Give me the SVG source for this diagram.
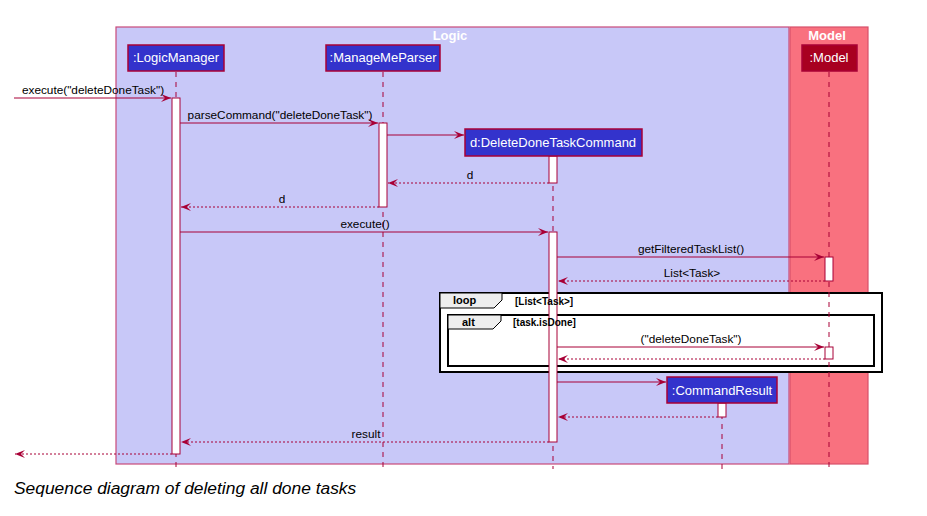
<svg xmlns="http://www.w3.org/2000/svg" width="927" height="516" viewBox="0 0 927 516">
<style>
text{font-family:"Liberation Sans",Arial,sans-serif}
.msg{font-size:11.8px;fill:#000;text-anchor:middle}
.ph{fill:#3333CC;stroke:#A80036;stroke-width:1.5}
.pt{font-size:13px;fill:#fff;text-anchor:middle}
.life{stroke:#A80036;stroke-width:1;stroke-dasharray:5,5;fill:none}
.act{fill:#fff;stroke:#A80036;stroke-width:1}
.line{stroke:#A80036;stroke-width:1;fill:none}
.ret{stroke:#A80036;stroke-width:1;stroke-dasharray:2,2;fill:none}
.frame{fill:#fff;stroke:#000;stroke-width:2}
.tab{fill:#EEEEEE;stroke:#000;stroke-width:1}
.tl{font-size:11px;font-weight:bold;fill:#000}
.guard{font-size:10px;font-weight:bold;fill:#000}
.bt{font-size:13px;font-weight:bold;fill:#fff;text-anchor:middle}
</style>
<defs>
<marker id="arr" markerWidth="12" markerHeight="10" refX="10" refY="4" orient="auto" markerUnits="userSpaceOnUse">
<polygon points="0,0 10,4 0,8 4,4" fill="#A80036"/>
</marker>
</defs>
<rect width="927" height="516" fill="#fff"/>

<g id="box-logic">
<rect x="116" y="27" width="673" height="437" fill="#C8C8F8" stroke="#C84A7A" stroke-width="1.2"/>
<text class="bt" x="450" y="40">Logic</text>
</g>
<g id="box-model">
<rect x="790" y="27" width="78" height="437" fill="#F9717F" stroke="#D8506A" stroke-width="1.2"/>
<text class="bt" x="827" y="40">Model</text>
</g>

<g id="loop">
<rect class="frame" x="440" y="293" width="442" height="79"/>
<polygon class="tab" points="440,293 502,293 502,300 494,308 440,308"/>
<text class="tl" x="453" y="304">loop</text>
</g>
<g id="alt">
<rect class="frame" x="448" y="315" width="426" height="51"/>
<polygon class="tab" points="448,315 501,315 501,321 493,329 448,329"/>
<text class="tl" x="462" y="326">alt</text>
</g>

<g id="lifelines">
<line class="life" x1="176" y1="72" x2="176" y2="469"/>
<line class="life" x1="383" y1="72" x2="383" y2="469"/>
<line class="life" x1="553" y1="156" x2="553" y2="469"/>
<line class="life" x1="722" y1="404" x2="722" y2="469"/>
<line class="life" x1="829" y1="72" x2="829" y2="469"/>
</g>

<g id="activations">
<rect class="act" x="172" y="98" width="8" height="356"/>
<rect class="act" x="379" y="123" width="8" height="84"/>
<rect class="act" x="549" y="156" width="8" height="27"/>
<rect class="act" x="549" y="232" width="8" height="210"/>
<rect class="act" x="825" y="257" width="8" height="24"/>
<rect class="act" x="825" y="347" width="8" height="12"/>
<rect class="act" x="718" y="403" width="8" height="14"/>
</g>

<g id="guards">
<text class="guard" x="515" y="305">[List&lt;Task&gt;]</text>
<text class="guard" x="513" y="326">[task.isDone]</text>
</g>

<g id="connectors">
<line class="line" x1="14" y1="98" x2="171" y2="98" marker-end="url(#arr)"/>
<text class="msg" x="93" y="94">execute("deleteDoneTask")</text>
<line class="line" x1="180" y1="123" x2="378" y2="123" marker-end="url(#arr)"/>
<text class="msg" x="280" y="119">parseCommand("deleteDoneTask")</text>
<line class="line" x1="387" y1="135" x2="464" y2="135" marker-end="url(#arr)"/>
<line class="ret" x1="549" y1="183" x2="388" y2="183" marker-end="url(#arr)"/>
<text class="msg" x="470" y="179">d</text>
<line class="ret" x1="379" y1="207" x2="181" y2="207" marker-end="url(#arr)"/>
<text class="msg" x="282" y="203">d</text>
<line class="line" x1="180" y1="232" x2="548" y2="232" marker-end="url(#arr)"/>
<text class="msg" x="365" y="228">execute()</text>
<line class="line" x1="557" y1="257" x2="824" y2="257" marker-end="url(#arr)"/>
<text class="msg" x="691" y="253">getFilteredTaskList()</text>
<line class="ret" x1="825" y1="281" x2="558" y2="281" marker-end="url(#arr)"/>
<text class="msg" x="692" y="277">List&lt;Task&gt;</text>
<line class="line" x1="557" y1="347" x2="824" y2="347" marker-end="url(#arr)"/>
<text class="msg" x="691" y="343">("deleteDoneTask")</text>
<line class="ret" x1="825" y1="359" x2="558" y2="359" marker-end="url(#arr)"/>
<line class="line" x1="557" y1="382" x2="666" y2="382" marker-end="url(#arr)"/>
<line class="ret" x1="718" y1="417" x2="558" y2="417" marker-end="url(#arr)"/>
<line class="ret" x1="549" y1="442" x2="181" y2="442" marker-end="url(#arr)"/>
<text class="msg" x="366" y="438">result</text>
<line class="ret" x1="172" y1="454" x2="15" y2="454" marker-end="url(#arr)"/>
</g>

<g id="LogicManager">
<rect class="ph" x="128" y="45" width="96" height="26"/>
<text class="pt" x="176" y="62">:LogicManager</text>
</g>
<g id="ManageMeParser">
<rect class="ph" x="326" y="45" width="114" height="26"/>
<text class="pt" x="383" y="62">:ManageMeParser</text>
</g>
<g id="Model">
<rect x="802" y="45" width="55" height="26" fill="#A80020" stroke="#A80036" stroke-width="1.5"/>
<text class="pt" x="829" y="62">:Model</text>
</g>
<g id="DeleteDoneTaskCommand">
<rect class="ph" x="465" y="129" width="177" height="27"/>
<text class="pt" x="553" y="147">d:DeleteDoneTaskCommand</text>
</g>
<g id="CommandResult">
<rect class="ph" x="667" y="377" width="110" height="26"/>
<text class="pt" x="722" y="395">:CommandResult</text>
</g>

<text x="14" y="494" font-size="17.4" font-style="italic" fill="#000">Sequence diagram of deleting all done tasks</text>
</svg>
